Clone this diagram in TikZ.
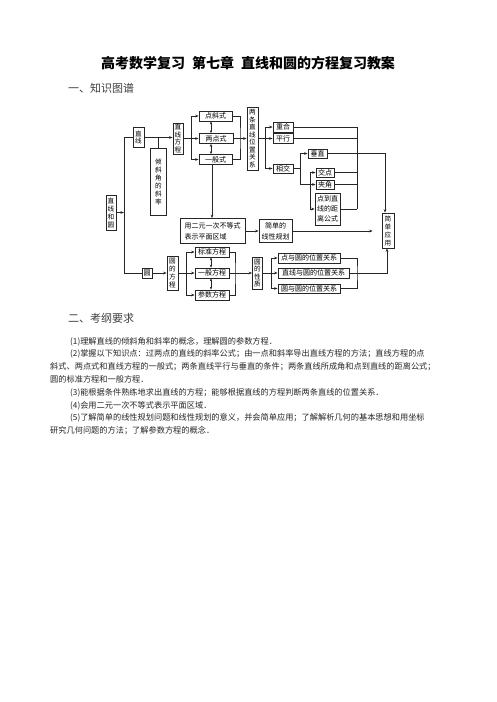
\documentclass[tikz,border=0pt]{standalone}
\usepackage{fontspec}
\newfontfamily\cjk{Noto Sans CJK SC}
\usetikzlibrary{arrows.meta}
\XeTeXlinebreaklocale "zh"
\XeTeXlinebreakskip=0pt plus 1pt
\begin{document}
\begin{tikzpicture}[x=1pt,y=-1pt]
\tikzset{
 bx/.style={draw=black!85, line width=0.7pt, fill=white, inner sep=0pt, font=\cjk\fontsize{7}{7.6}\selectfont, align=center, text=black},
 vbx/.style={bx, font=\cjk\fontsize{6.6}{7.5}\selectfont},
 ln/.style={draw=black!85, line width=0.65pt},
 arr/.style={ln, -{Stealth[length=3.5pt,width=2.6pt]}},
 darr/.style={ln, {Stealth[length=3pt,width=2.4pt]}-{Stealth[length=3pt,width=2.4pt]}},
 sz/.style 2 args={minimum width=#1pt, minimum height=#2pt},
 body/.style={anchor=base west, inner sep=0pt, font=\cjk\fontsize{8.2}{10}\selectfont, text=black!85},
 head/.style={anchor=base west, inner sep=0pt, font=\cjk\fontsize{11}{12}\selectfont, text=black!75},
}
\fill[white] (0,0) rectangle (496,702);
\useasboundingbox (0,0) rectangle (496,702);

% title and headings
\node[inner sep=0pt, font=\cjk\bfseries\fontsize{14}{14}\selectfont] (title) at (248,63) {高考数学复习\hspace{7pt}第七章\hspace{7pt}直线和圆的方程复习教案};
\node[head] (h1) at (68,92) {一、知识图谱};
\node[head] (h2) at (68,322) {二、考纲要求};

% body text
\node[body] (l1) at (70,344) {(1)理解直线的倾斜角和斜率的概念，理解圆的参数方程．};
\node[body] (l2) at (70,356.5) {\makebox[369pt][s]{(2)掌握以下知识点：过两点的直线的斜率公式；由一点和斜率导出直线方程的方法；直线方程的点}};
\node[body] (l3) at (50,369.5) {\makebox[389pt][s]{斜式、两点式和直线方程的一般式；两条直线平行与垂直的条件；两条直线所成角和点到直线的距离公式；}};
\node[body] (l4) at (50,382.5) {圆的标准方程和一般方程．};
\node[body] (l5) at (70,395.5) {(3)能根据条件熟练地求出直线的方程；能够根据直线的方程判断两条直线的位置关系．};
\node[body] (l6) at (70,408) {(4)会用二元一次不等式表示平面区域．};
\node[body] (l7) at (70,420.5) {\makebox[369pt][s]{(5)了解简单的线性规划问题和线性规划的意义，并会简单应用；了解解析几何的基本思想和用坐标}};
\node[body] (l8) at (50,433) {研究几何问题的方法；了解参数方程的概念．};

% diagram nodes
\node[vbx, sz={11}{20}] (zx) at (138.5,137.5) {直\\线};
\node[vbx, sz={16}{67}, font=\cjk\fontsize{6.6}{8}\selectfont] (qxj) at (158.5,181.5) {倾\\斜\\角\\的\\斜\\率};
\node[vbx, sz={10}{31}] (zxfc) at (178,138.5) {直\\线\\方\\程};
\node[bx, sz={33}{10}] (dxs) at (215.5,116) {点斜式};
\node[bx, sz={34}{10}] (lds) at (216,138.5) {两点式};
\node[bx, sz={33}{10}] (ybs) at (215.5,159.5) {一般式};
\node[vbx, sz={11}{63}] (ltzx) at (252.5,138.5) {两\\条\\直\\线\\位\\置\\关\\系};
\node[bx, sz={20}{10}] (ch) at (283,127) {重合};
\node[bx, sz={20}{10}] (px) at (283,138.5) {平行};
\node[bx, sz={20}{9}] (xj) at (283,168.5) {相交};
\node[bx, sz={19}{9}] (cz) at (317.5,153.5) {垂直};
\node[bx, sz={18}{9}] (jd) at (325,172.5) {交点};
\node[bx, sz={18}{9}] (ja) at (325,184.5) {夹角};
\node[bx, sz={25}{32}, font=\cjk\fontsize{7}{10}\selectfont] (dist) at (327.5,209) {点到直\\线的距\\离公式};
\node[bx, sz={65}{25}, align=left, font=\cjk\fontsize{7}{11}\selectfont] (byc) at (212.5,231) {用二元一次不等式\\表示平面区域};
\node[bx, sz={33}{23}, font=\cjk\fontsize{7}{11}\selectfont] (jdxg) at (275.5,231) {简单的\\线性规划};
\node[vbx, sz={12}{35}, font=\cjk\fontsize{6.6}{8}\selectfont] (jdyy) at (388,230.5) {简\\单\\应\\用};
\node[vbx, sz={10}{35}, font=\cjk\fontsize{6.6}{8}\selectfont] (zxhy) at (111,212.5) {直\\线\\和\\圆};
\node[bx, sz={10}{10}] (y) at (147,273) {圆};
\node[vbx, sz={11}{34}, font=\cjk\fontsize{6.6}{8}\selectfont] (yfc) at (172.5,273) {圆\\的\\方\\程};
\node[bx, sz={34}{10}] (bz) at (212,252) {标准方程};
\node[bx, sz={34}{10}] (ybfc) at (212,273) {一般方程};
\node[bx, sz={34}{10}] (cs) at (212,295) {参数方程};
\node[vbx, sz={10}{32}] (yxz) at (257.5,273) {圆\\的\\性\\质};
\node[bx, sz={62}{10}] (dyy) at (309,258) {点与圆的位置关系};
\node[bx, sz={71}{10}] (zyy) at (313.5,273) {直线与圆的位置关系};
\node[bx, sz={62}{9}] (yyy) at (309,288.5) {圆与圆的位置关系};

% junction coordinates
\coordinate (t1) at (124,137.5);
\coordinate (t2) at (124,273);
\coordinate (b1) at (158.5,137.5);
\coordinate (c1) at (191,138.5);
\coordinate (c2) at (240,138.5);
\coordinate (c3) at (265,138.5);
\coordinate (r1) at (357,209);
\coordinate (c4) at (300,168.5);
\coordinate (c5) at (310,190);
\coordinate (c6) at (186,273);
\coordinate (c7) at (235,273);
\coordinate (c8) at (271,273);
\coordinate (c9) at (357,273);

% connectors: trunk
\draw[ln] (zx.west) -- (t1) -- (t2) -- (y.west);
\draw[arr] (zxhy.east) -- (zxhy.east -| t1);
\draw[arr] (zx.east) -- (zx.east -| zxfc.west);
\draw[ln] (b1) -- (qxj.north);
% line equations
\draw[arr] (zxfc.east) -- (lds.west);
\draw[arr] (c1) |- (dxs.west);
\draw[arr] (c1) |- (ybs.west);
\draw[darr] ([xshift=-4.5pt]dxs.south) -- ([xshift=-5pt]lds.north);
\draw[darr] ([xshift=-5pt]lds.south) -- ([xshift=-4.5pt]ybs.north);
\draw[ln] (dxs.east) -| (c2) |- (ybs.east);
\draw[arr] (lds.east) -- (ltzx.west);
\draw[arr] ([xshift=-3.5pt]ybs.south) -- ([xshift=-3.5pt]ybs.south |- byc.north);
% two lines relation
\draw[arr] (ltzx.east) -- (px.west);
\draw[arr] (c3) |- (ch.west);
\draw[arr] (c3) |- (xj.west);
\draw[ln] (ch.east) -| (r1);
\draw[ln] (px.east) -- (px.east -| r1);
\draw[ln] (jd.east) -- (jd.east -| r1);
\draw[ln] (ja.east) -- (ja.east -| r1);
\draw[ln] (dist.east) -- (r1);
\draw[ln] (xj.east) -- (c4);
\draw[arr] (c4) |- (cz.west);
\draw[arr] (c4) |- (ja.west);
\draw[arr] (c5) |- (jd.west);
\draw[arr] (c5) |- (dist.west);
\draw[arr] (cz.east) -| ([xshift=-3pt]jdyy.north);
% linear programming
\draw[arr] (byc.east) -- (jdxg.west);
\draw[arr, shorten >=9pt] (jdxg.east) -- (jdxg.east -| jdyy.west);
% circle
\draw[arr] (y.east) -- (yfc.west);
\draw[arr] (yfc.east) -- (ybfc.west);
\draw[arr] (c6) |- (bz.west);
\draw[arr] (c6) |- (cs.west);
\draw[darr] ([xshift=-1pt]bz.south) -- ([xshift=-1pt]ybfc.north);
\draw[darr] ([xshift=-1pt]ybfc.south) -- ([xshift=-1pt]cs.north);
\draw[ln] (bz.east) -| (c7) |- (cs.east);
\draw[arr] (ybfc.east) -- (yxz.west);
\draw[arr] (yxz.east) -- (zyy.west);
\draw[arr] (c8) |- (dyy.west);
\draw[arr] (c8) |- (yyy.west);
\draw[ln] (dyy.east) -| (c9) |- (yyy.east);
\draw[arr] (zyy.east) -| ([xshift=-1pt]jdyy.south);
\end{tikzpicture}
\end{document}
